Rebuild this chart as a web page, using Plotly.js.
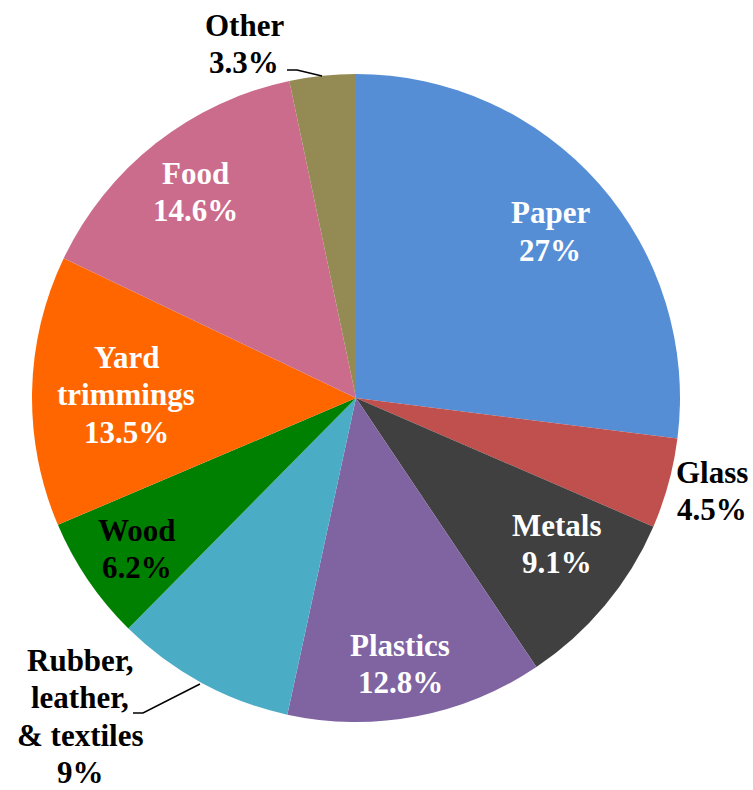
<!DOCTYPE html>
<html><head><meta charset="utf-8"><script src="https://cdn.plot.ly/plotly-3.0.1.min.js"></script>
<style>
#c text.annotation-text, #c text.annotation-text tspan { font-family: 'Liberation Serif', 'Times New Roman', serif !important; }
</style>
</head>
<body style="margin:0">
<div id="c" style="width:753px;height:790px"></div>
<script>
// ---- data ----
var categories = ["Paper", "Glass", "Metals", "Plastics", "Rubber, leather, & textiles", "Wood", "Yard trimmings", "Food", "Other"];
var labelLines = [["Paper"], ["Glass"], ["Metals"], ["Plastics"], ["Rubber,", "leather,", "& textiles"], ["Wood"], ["Yard", "trimmings"], ["Food"], ["Other"]];
var shares = [27, 4.5, 9.1, 12.8, 9, 6.2, 13.5, 14.6, 3.3];
var sliceColors = ["#558ED5", "#C0504D", "#404040", "#8064A2", "#4BACC6", "#008000", "#FF6600", "#CC6C8C", "#948A54"];
var labelColors = ["#ffffff", "#000000", "#ffffff", "#ffffff", "#000000", "#000000", "#ffffff", "#ffffff", "#000000"];

(function () {
  var mg = {l: 32, r: 73, t: 74, b: 68};
  var W = 753 - mg.l - mg.r, H = 790 - mg.t - mg.b;
  function toX(x) { return (x - mg.l) / W; }
  function toY(y) { return (790 - mg.b - y) / H; }

  var anchorsPx = [[550, 213], [712, 472], [557, 525], [400, 645], [80, 660], [137, 530], [126, 357], [195, 173], [244, 25]];
  var gap = 37.5;
  var ann = [];
  categories.forEach(function (c, i) {
    var lines = labelLines[i].concat([shares[i] + "%"]);
    lines.forEach(function (t, j) {
      ann.push({
        xref: "paper", yref: "paper",
        x: toX(anchorsPx[i][0]), y: toY(anchorsPx[i][1] + j * gap),
        xanchor: "center", yanchor: "middle",
        text: "<b>" + t + "</b>", showarrow: false,
        font: {family: "Liberation Serif", size: 31, color: labelColors[i]}
      });
    });
  });

  function pathOf(pts) {
    return pts.map(function (p, k) { return (k ? "L" : "M") + toX(p[0]) + "," + toY(p[1]); }).join(" ");
  }
  var shp = [
    {type: "path", xref: "paper", yref: "paper", path: pathOf([[287, 70], [297, 70], [322, 76]]), line: {color: "#000", width: 1.5}},
    {type: "path", xref: "paper", yref: "paper", path: pathOf([[133, 713], [143, 713], [200, 684]]), line: {color: "#000", width: 1.5}}
  ];

  Plotly.newPlot("c", [{
    type: "pie",
    labels: categories,
    values: shares,
    sort: false,
    direction: "clockwise",
    rotation: 0,
    marker: {colors: sliceColors, line: {width: 0}},
    textinfo: "none",
    hoverinfo: "none",
    showlegend: false
  }], {
    width: 753, height: 790,
    margin: mg,
    showlegend: false,
    annotations: ann,
    shapes: shp
  }, {displayModeBar: false});
})();
</script></body></html>
